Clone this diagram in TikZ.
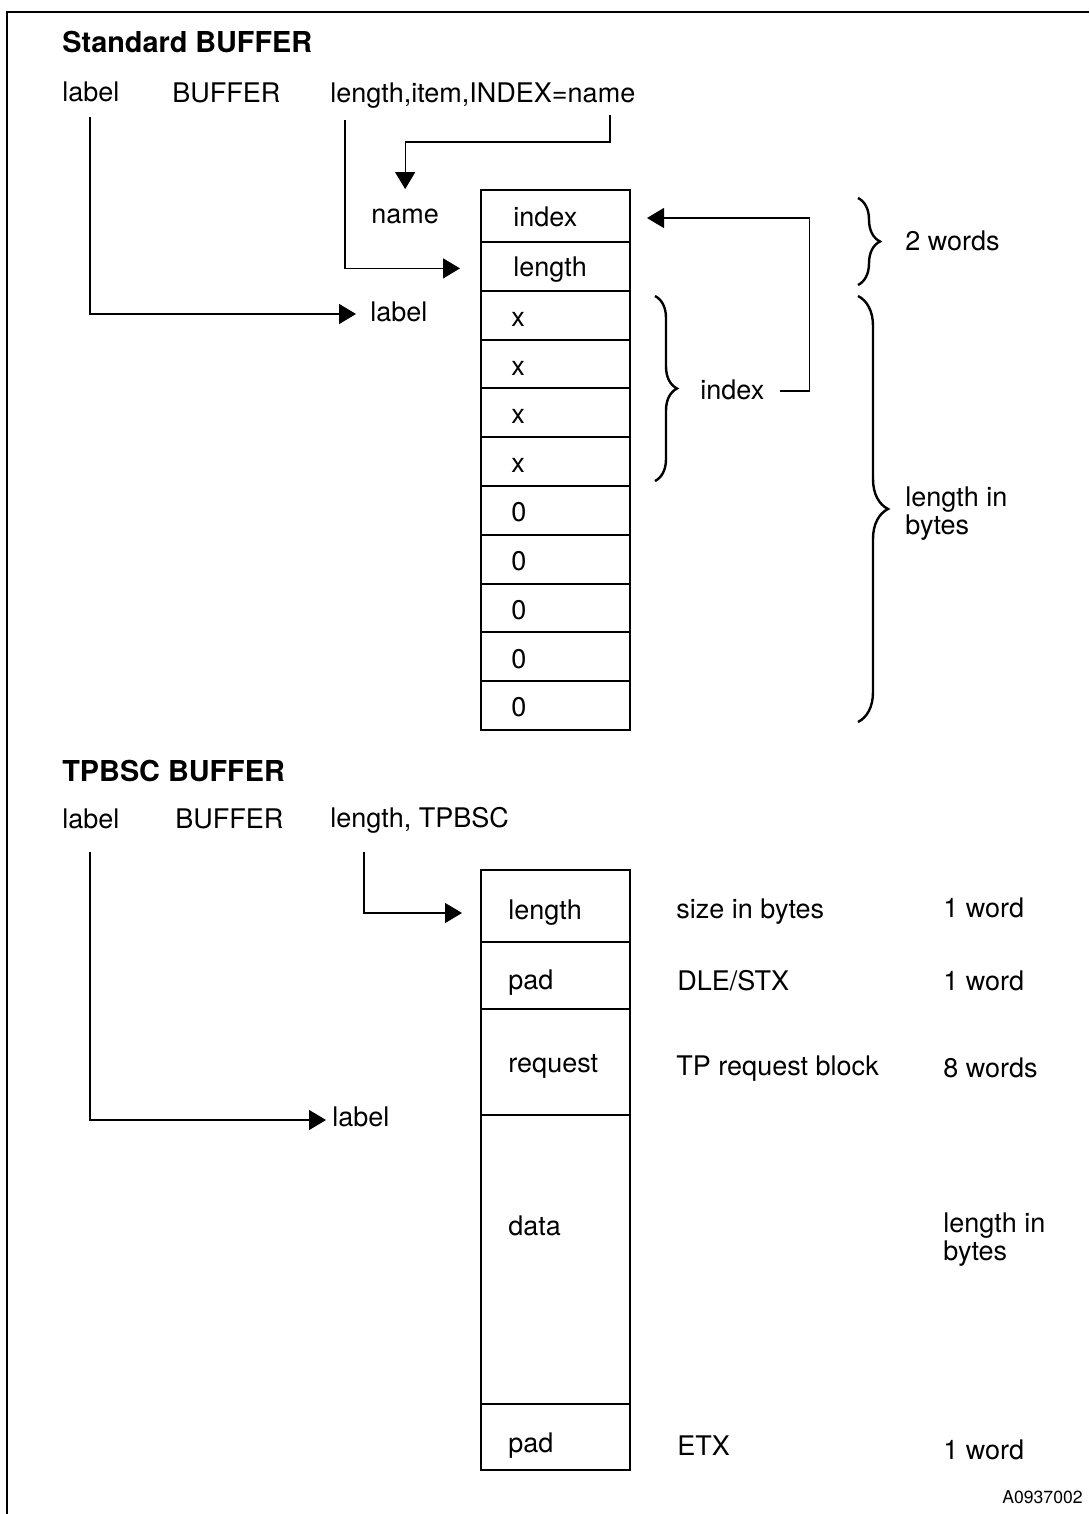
\documentclass[tikz,border=0pt]{standalone}
\usepackage{fontspec}
\setmainfont{TeX Gyre Heros}
\usetikzlibrary{arrows.meta,calc,decorations.pathreplacing}
\begin{document}
\begin{tikzpicture}[x=0.5pt,y=-0.5pt,
  txt/.style={inner sep=0pt, anchor=west, font=\fontsize{13.5}{14}\selectfont, align=left},
  ttl/.style={inner sep=0pt, anchor=west, font=\fontsize{14.4}{16}\selectfont\bfseries},
  cell/.style={draw, line width=1pt, minimum width=74.5pt, inner sep=0pt, outer sep=0pt, anchor=north west},
  conn/.style={line width=0.6pt, -{Triangle[length=8.5pt,width=10pt]}},
  brc/.style={decorate, decoration={brace, amplitude=#1}, line width=1.2pt},
  frame/.style={line width=0.8pt}
]
\useasboundingbox (0,0) rectangle (1089,1514);
\draw[frame] (7,1514) -- (7,12) -- (1089,12);

% ---------- Standard BUFFER ----------
\node[ttl] (title1) at (62,42) {Standard BUFFER};
\node[txt] (hlabel1) at (62,92) {label};
\node[txt] (hbuf1) at (172,93) {BUFFER};
\node[txt] (hargs1) at (330,96) {length,item,INDEX=name};

\node[cell, minimum height=26pt] (r1) at (481,190) {};
\foreach \i [remember=\i as \j (initially 1)] in {2,...,11}
  {\node[cell, minimum height=24.4pt] (r\i) at (r\j.south west) {};}

\node[txt] (t1) at ($(r1.west)+(32,1)$) {index};
\node[txt] (t2) at ($(r2.west)+(32,3)$) {length};
\foreach \i in {3,4,5,6}
  {\node[txt] (t\i) at ($(r\i.west)+(30,4)$) {x};}
\foreach \i in {7,8,9,10,11}
  {\node[txt] (t\i) at ($(r\i.west)+(30,2)$) {0};}

\node[txt] (namelbl) at (371,216) {name};
\node[txt] (lbltgt1) at (370,312) {label};
\node[txt] (idxlbl) at (700,390) {index};
\node[txt] (twowords) at (905,241) {2 words};
\node[txt] (lenbytes1) at (905,514) {length in\\bytes};

\coordinate (s1) at (90,117);
\coordinate (s2) at (345,120);
\coordinate (s3) at (610,115);

\draw[conn, shorten >=7pt] (s1) |- ($(lbltgt1.west)+(0,2)$);
\draw[conn, shorten >=10.5pt] (s2) |- ($(r2.west)+(0,2)$);
\draw[conn, shorten >=9.5pt] (s3) -- ++(0,27) -| (namelbl.north);
\draw[conn, shorten >=8.5pt] ($(idxlbl.east)+(15,1)$) -- ++(30,0) |- ($(r1.east)+(0,2)$);

\draw[brc=11pt] (655,296) -- (655,481);
\draw[brc=11pt] (858,198) -- (858,285);
\draw[brc=15pt] (858,296) -- (858,722);

% ---------- TPBSC BUFFER ----------
\node[ttl] (title2) at (62,771) {TPBSC BUFFER};
\node[txt] (hlabel2) at (62,819) {label};
\node[txt] (hbuf2) at (175,819) {BUFFER};
\node[txt] (hargs2) at (330,820) {length, TPBSC};

\node[cell, minimum height=36pt] (q1) at (481,870) {};
\node[cell, minimum height=33.5pt] (q2) at (q1.south west) {};
\node[cell, minimum height=53pt] (q3) at (q2.south west) {};
\node[cell, minimum height=144.5pt] (q4) at (q3.south west) {};
\node[cell, minimum height=33pt] (q5) at (q4.south west) {};

\node[txt] (u1) at ($(q1.west)+(27,7)$) {length};
\node[txt] (u2) at ($(q2.west)+(27,7)$) {pad};
\node[txt] (u3) at ($(q3.west)+(27,4)$) {request};
\node[txt] (u4) at (508,1226) {data};
\node[txt] (u5) at ($(q5.west)+(27,9)$) {pad};

\node[txt] (d1) at (676,912) {size in bytes};
\node[txt] (d2) at (677,981) {DLE/STX};
\node[txt] (d3) at (676,1069) {TP request block};
\node[txt] (d5) at (677,1446) {ETX};

\node[txt] (w1) at (943,908) {1 word};
\node[txt] (w2) at (943,981) {1 word};
\node[txt] (w3) at (943,1068) {8 words};
\node[txt] (w4) at (943,1240) {length in\\bytes};
\node[txt] (w5) at (943,1450) {1 word};

\node[txt] (lbltgt2) at (332,1117) {label};

\coordinate (s4) at (90,852);
\coordinate (s5) at (364,852);
\draw[conn, shorten >=3pt] (s4) |- ($(lbltgt2.west)+(0,3)$);
\draw[conn, shorten >=9.5pt] (s5) |- ($(q1.west)+(0,7)$);

\node[inner sep=0pt, anchor=east, font=\fontsize{8.8}{10}\selectfont] (fig) at (1083,1497) {A0937002};
\end{tikzpicture}
\end{document}
